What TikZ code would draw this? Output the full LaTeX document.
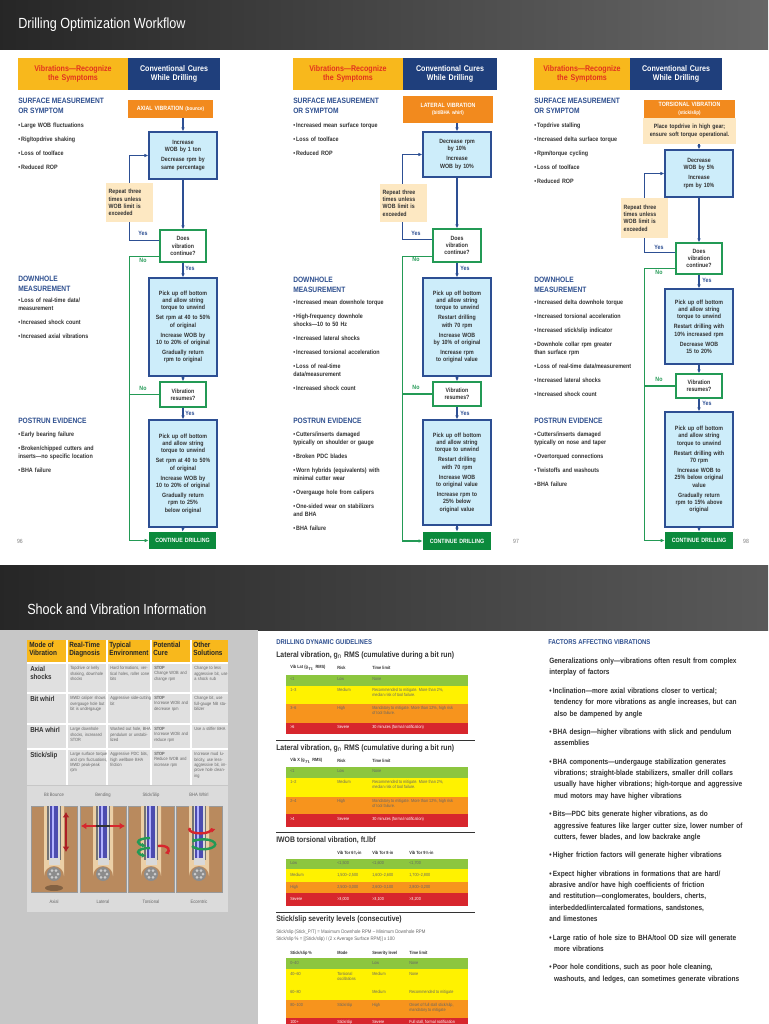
\documentclass[tikz,border=0pt]{standalone}
\usepackage{fontspec}
\setmainfont{Liberation Sans}[FakeStretch=0.86]
\usetikzlibrary{arrows.meta,calc}
\definecolor{hblue}{HTML}{2E4F8F}
\definecolor{lblue}{HTML}{CDEDFA}
\definecolor{bdr}{HTML}{2D4F93}
\definecolor{gdr}{HTML}{239A55}
\definecolor{gfill}{HTML}{0B8A3C}
\definecolor{ofill}{HTML}{F28A1E}
\definecolor{yfill}{HTML}{F8B81C}
\definecolor{ored}{HTML}{E2321F}
\definecolor{nblue}{HTML}{1F3F7C}
\definecolor{cream}{HTML}{FDE8C2}
\definecolor{tgray}{HTML}{333333}
\definecolor{cgreen}{HTML}{8CC63F}
\definecolor{cyel}{HTML}{FFF200}
\definecolor{corg}{HTML}{F7941D}
\definecolor{cred}{HTML}{D7262D}
\definecolor{brn}{HTML}{B98A5E}
\definecolor{tan}{HTML}{EBCFA6}
\newcommand\B[7]{%
 \pgfmathsetmacro\bw{(#5-#3)*0.75}\pgfmathsetmacro\bh{(#6-#4)*0.75}\pgfmathsetmacro\btw{(#5-#3)*0.75-2.5}%
 \node[#2,minimum width=\bw pt,minimum height=\bh pt,text width=\btw pt] (#1) at ({(#3+#5)/2},{(#4+#6)/2}) {#7};}
\newcommand\bl[1]{\hangindent=3.6pt\hangafter=1\noindent\textbullet\,#1\par}
\newcommand\cellA[5]{\fill[#5] (#1,#2) rectangle (#3,#4);}
\begin{document}
\begin{tikzpicture}[x=0.75pt,y=-0.75pt,
 fl/.style={font=\bfseries\fontsize{4.6}{5.5}\selectfont},
 act/.style={fl,draw=bdr,fill=lblue,line width=0.8pt,align=center,inner xsep=1pt,inner ysep=1pt,text=tgray},
 dec/.style={fl,draw=gdr,fill=white,line width=0.8pt,align=center,inner xsep=1pt,inner ysep=1pt,text=tgray},
 rep/.style={fl,fill=cream,align=left,inner xsep=2pt,inner ysep=1pt,text=tgray},
 repc/.style={rep,align=center},
 cont/.style={fl,fill=gfill,text=white,align=center,inner sep=1pt},
 vib/.style={fl,fill=ofill,text=white,align=center,inner sep=0.5pt},
 hdo/.style={font=\bfseries\fontsize{6.2}{7}\selectfont,fill=yfill,text=ored,align=center,inner sep=1pt},
 hdb/.style={font=\bfseries\fontsize{6.2}{7}\selectfont,fill=nblue,text=white,align=center,inner sep=1pt},
 barr/.style={draw=bdr,line width=0.8pt,-{Latex[length=3pt,width=2.6pt]}},
 garr/.style={draw=gdr,line width=0.8pt,-{Latex[length=3pt,width=2.6pt]}},
 gln/.style={draw=gdr,line width=0.8pt},
 bln/.style={draw=bdr,line width=0.8pt},
 yl/.style={font=\bfseries\fontsize{4.6}{5}\selectfont,text=bdr,inner sep=0.5pt},
 nl/.style={font=\bfseries\fontsize{4.6}{5}\selectfont,text=gdr,inner sep=0.5pt},
 hd/.style={font=\bfseries\fontsize{5.8}{7.4}\selectfont,text=hblue,align=left,anchor=north west,inner sep=0pt},
 bls/.style={font=\fontsize{4.7}{5.9}\selectfont\bfseries,text=tgray,anchor=north west,inner sep=0pt,text width=#1},
 bls/.default=72pt,
 tt/.style={font=\fontsize{3.3}{4}\selectfont,text=tgray,anchor=north west,inner sep=0pt},
 tb/.style={font=\bfseries\fontsize{5.4}{6}\selectfont,text=tgray,anchor=west,inner sep=0pt},
 ct/.style={font=\fontsize{3.4}{4.1}\selectfont,text=black!60,anchor=north west,inner sep=0pt,text width=#1,align=left},
 ct/.default=28pt
]
\useasboundingbox (0,0) rectangle (768,1024);
% backgrounds
\fill[white] (0,0) rectangle (768,1024);
\shade[left color=black!85,right color=black!60] (0,0) rectangle (768,50);
\shade[left color=black!85,right color=black!65] (0,565) rectangle (768,630);
\fill[black!22] (0,630) rectangle (258,1024);
\node[font=\fontsize{11}{13}\selectfont,text=white,anchor=west,inner sep=0pt] (title1) at (18,25) {Drilling Optimization Workflow};
\node[font=\fontsize{11}{13}\selectfont,text=white,anchor=west,inner sep=0pt] (title2) at (27,609) {Shock and Vibration Information};
\node[font=\fontsize{4.5}{5}\selectfont,text=black!50] (pg1) at (20,541) {96};
\node[font=\fontsize{4.5}{5}\selectfont,text=black!50] (pg2) at (516,541) {97};
\node[font=\fontsize{4.5}{5}\selectfont,text=black!50] (pg3) at (746,541) {98};

% ================= headers
\B{h1a}{hdo}{18}{58}{128}{90}{Vibrations---Recognize\\the Symptoms}
\B{h1b}{hdb}{128}{58}{220}{90}{Conventional Cures\\While Drilling}
\B{h2a}{hdo}{293}{58}{403}{90}{Vibrations---Recognize\\the Symptoms}
\B{h2b}{hdb}{403}{58}{497}{90}{Conventional Cures\\While Drilling}
\B{h3a}{hdo}{534}{58}{630}{90}{Vibrations---Recognize\\the Symptoms}
\B{h3b}{hdb}{630}{58}{722}{90}{Conventional Cures\\While Drilling}

% ================= column 1 text
\node[hd] (s1) at (18,98) {SURFACE MEASUREMENT\\OR SYMPTOM};
\node[bls] (s1b) at (18,123) {\setlength\parskip{4.6pt}\raggedright
\bl{Large WOB fluctuations}\bl{Rig/topdrive shaking}\bl{Loss of toolface}\bl{Reduced ROP}};
\node[hd] (w1) at (18,276) {DOWNHOLE\\MEASUREMENT};
\node[bls] (w1b) at (18,298) {\setlength\parskip{4.6pt}\raggedright
\bl{Loss of real-time data/\\measurement}\bl{Increased shock count}\bl{Increased axial vibrations}};
\node[hd] (p1h) at (18,418) {POSTRUN EVIDENCE};
\node[bls=80pt] (p1b) at (18,432) {\setlength\parskip{4.6pt}\raggedright
\bl{Early bearing failure}\bl{Broken/chipped cutters and\\inserts---no specific location}\bl{BHA failure}};

% column 1 flow
\B{v1}{vib}{128}{100}{213}{118}{AXIAL VIBRATION {\fontsize{3.9}{4}\selectfont(bounce)}}
\B{a1}{act}{149}{132}{217}{179}{Increase\\WOB by 1 ton\\[2pt]Decrease rpm by\\same percentage}
\B{d1}{dec}{160}{230}{206}{262}{Does\\vibration\\continue?}
\B{b1}{act}{149}{278}{217}{376}{Pick up off bottom\\and allow string\\torque to unwind\\[2pt]Set rpm at 40 to 50\%\\of original\\[2pt]Increase WOB by\\10 to 20\% of original\\[2pt]Gradually return\\rpm to original}
\B{r1}{dec}{160}{382}{206}{407}{Vibration\\resumes?}
\B{c1}{act}{149}{420}{217}{527}{Pick up off bottom\\and allow string\\torque to unwind\\[2pt]Set rpm at 40 to 50\%\\of original\\[2pt]Increase WOB by\\10 to 20\% of original\\[2pt]Gradually return\\rpm to 25\%\\below original}
\B{g1}{cont}{149}{532}{216}{549}{CONTINUE DRILLING}
\draw[barr] (v1.south -| a1.north) -- (a1.north);
\draw[barr] (a1.south) -- (d1.north);
\draw[barr] (d1.south) -- (b1.north);
\draw[barr] (b1.south) -- (r1.north);
\draw[barr] (r1.south) -- (c1.north);
\draw[barr] (c1.south) -- (g1.north);
\draw[barr] ([yshift=-8.2pt]d1.north west) -| ([xshift=-14.25pt]a1.west) -- (a1.west);
\draw[garr] ([yshift=4.5pt]d1.south west) -| ([xshift=-14.25pt]g1.west) -- (g1.west);
\draw[gln] (r1.west) -- ([xshift=-14.25pt]g1.west |- r1.west);
\B{p1}{rep}{107}{183}{152}{222}{Repeat three\\times unless\\WOB limit is\\exceeded}
\node[yl] (y1a) at (143,233) {Yes};
\node[nl] (n1a) at (143,260) {No};
\node[nl] (n1b) at (143,388) {No};
\node[yl] (y1b) at (190,268) {Yes};
\node[yl] (y1c) at (190,413) {Yes};

% ================= column 2 text
\node[hd] (s2) at (293,98) {SURFACE MEASUREMENT\\OR SYMPTOM};
\node[bls=80pt] (s2b) at (293,123) {\setlength\parskip{4.6pt}\raggedright
\bl{Increased mean surface torque}\bl{Loss of toolface}\bl{Reduced ROP}};
\node[hd] (w2) at (293,277) {DOWNHOLE\\MEASUREMENT};
\node[bls=80pt] (w2b) at (293,300) {\setlength\parskip{4.6pt}\raggedright
\bl{Increased mean downhole torque}\bl{High-frequency downhole\\shocks---10 to 50 Hz}\bl{Increased lateral shocks}\bl{Increased torsional acceleration}\bl{Loss of real-time\\data/measurement}\bl{Increased shock count}};
\node[hd] (p2h) at (293,418) {POSTRUN EVIDENCE};
\node[bls=82pt] (p2b) at (293,432) {\setlength\parskip{4.6pt}\raggedright
\bl{Cutters/inserts damaged\\typically on shoulder or gauge}\bl{Broken PDC blades}\bl{Worn hybrids (equivalents) with\\minimal cutter wear}\bl{Overgauge hole from calipers}\bl{One-sided wear on stabilizers\\and BHA}\bl{BHA failure}};

\B{v2}{vib}{403}{96}{493}{123}{LATERAL VIBRATION\\{\fontsize{3.9}{4.5}\selectfont(bit/BHA whirl)}}
\B{a2}{act}{423}{132}{491}{177}{Decrease rpm\\by 10\%\\[2pt]Increase\\WOB by 10\%}
\B{d2}{dec}{433}{229}{481}{262}{Does\\vibration\\continue?}
\B{b2}{act}{423}{278}{491}{376}{Pick up off bottom\\and allow string\\torque to unwind\\[2pt]Restart drilling\\with 70 rpm\\[2pt]Increase WOB\\by 10\% of original\\[2pt]Increase rpm\\to original value}
\B{r2}{dec}{433}{382}{481}{406}{Vibration\\resumes?}
\B{c2}{act}{423}{420}{491}{525}{Pick up off bottom\\and allow string\\torque to unwind\\[2pt]Restart drilling\\with 70 rpm\\[2pt]Increase WOB\\to original value\\[2pt]Increase rpm to\\25\% below\\original value}
\B{g2}{cont}{423}{532}{491}{550}{CONTINUE DRILLING}
\draw[barr] (v2.south -| a2.north) -- (a2.north);
\draw[barr] (a2.south) -- (d2.north);
\draw[barr] (d2.south) -- (b2.north);
\draw[barr] (b2.south) -- (r2.north);
\draw[barr] (r2.south) -- (c2.north);
\draw[barr] (c2.south) -- (g2.north);
\draw[barr] ([yshift=-8.2pt]d2.north west) -| ([xshift=-15pt]a2.west) -- (a2.west);
\draw[garr] ([yshift=4.5pt]d2.south west) -| ([xshift=-15pt]g2.west) -- (g2.west);
\draw[gln] (r2.west) -- ([xshift=-15pt]g2.west |- r2.west);
\B{p2}{rep}{381}{184}{426}{222}{Repeat three\\times unless\\WOB limit is\\exceeded}
\node[yl] (y2a) at (416,233) {Yes};
\node[nl] (n2a) at (416,259) {No};
\node[nl] (n2b) at (416,387) {No};
\node[yl] (y2b) at (465,268) {Yes};
\node[yl] (y2c) at (465,413) {Yes};

% ================= column 3 text
\node[hd] (s3) at (534,98) {SURFACE MEASUREMENT\\OR SYMPTOM};
\node[bls=80pt] (s3b) at (534,123) {\setlength\parskip{4.6pt}\raggedright
\bl{Topdrive stalling}\bl{Increased delta surface torque}\bl{Rpm/torque cycling}\bl{Loss of toolface}\bl{Reduced ROP}};
\node[hd] (w3) at (534,277) {DOWNHOLE\\MEASUREMENT};
\node[bls=84pt] (w3b) at (534,300) {\setlength\parskip{4.6pt}\raggedright
\bl{Increased delta downhole torque}\bl{Increased torsional acceleration}\bl{Increased stick/slip indicator}\bl{Downhole collar rpm greater\\than surface rpm}\bl{Loss of real-time data/measurement}\bl{Increased lateral shocks}\bl{Increased shock count}};
\node[hd] (p3h) at (534,418) {POSTRUN EVIDENCE};
\node[bls=80pt] (p3b) at (534,432) {\setlength\parskip{4.6pt}\raggedright
\bl{Cutters/inserts damaged\\typically on nose and taper}\bl{Overtorqued connections}\bl{Twistoffs and washouts}\bl{BHA failure}};

\B{v3}{vib}{644}{100}{735}{118}{TORSIONAL VIBRATION\\{\fontsize{3.9}{4.5}\selectfont(stick/slip)}}
\B{t3}{repc}{644}{118}{735}{144}{Place topdrive in high gear;\\ensure soft torque operational.}
\B{a3}{act}{665}{150}{733}{197}{Decrease\\WOB by 5\%\\[2pt]Increase\\rpm by 10\%}
\B{d3}{dec}{676}{243}{722}{274}{Does\\vibration\\continue?}
\B{b3}{act}{665}{289}{733}{364}{Pick up off bottom\\and allow string\\torque to unwind\\[2pt]Restart drilling with\\10\% increased rpm\\[2pt]Decrease WOB\\15 to 20\%}
\B{r3}{dec}{676}{374}{722}{398}{Vibration\\resumes?}
\B{c3}{act}{665}{412}{733}{527}{Pick up off bottom\\and allow string\\torque to unwind\\[2pt]Restart drilling with\\70 rpm\\[2pt]Increase WOB to\\25\% below original\\value\\[2pt]Gradually return\\rpm to 15\% above\\original}
\B{g3}{cont}{665}{532}{733}{549}{CONTINUE DRILLING}
\draw[barr] (t3.south -| a3.north) -- (a3.north);
\draw[barr] (a3.south) -- (d3.north);
\draw[barr] (d3.south) -- (b3.north);
\draw[barr] (b3.south) -- (r3.north);
\draw[barr] (r3.south) -- (c3.north);
\draw[barr] (c3.south) -- (g3.north);
\draw[barr] ([yshift=-7.5pt]d3.north west) -| ([xshift=-15pt]a3.west) -- (a3.west);
\draw[garr] ([yshift=4.5pt]d3.south west) -| ([xshift=-15pt]g3.west) -- (g3.west);
\draw[gln] (r3.west) -- ([xshift=-15pt]g3.west |- r3.west);
\B{p3}{rep}{622}{198}{667}{238}{Repeat three\\times unless\\WOB limit is\\exceeded}
\node[yl] (y3a) at (659,247) {Yes};
\node[nl] (n3a) at (659,272) {No};
\node[nl] (n3b) at (659,379) {No};
\node[yl] (y3b) at (707,280) {Yes};
\node[yl] (y3c) at (707,403) {Yes};

% ================= bottom left table
\fill[yfill] (27,640) rectangle (228,663);
\foreach \x/\t in {29/Mode of\\Vibration,69/Real-Time\\Diagnosis,109/Typical\\Environment,153/Potential\\Cure,193/Other\\Solutions}
  \node[font=\bfseries\fontsize{5.6}{6}\selectfont,text=black!85,anchor=north west,inner sep=0pt,align=left] at (\x,642) {\t};
\fill[black!12] (27,663) rectangle (228,785);
\foreach \x in {67,107,151,191} \draw[white,line width=0.8pt] (\x,640) -- (\x,785);
\foreach \y in {663,693,724,749} \draw[white,line width=0.8pt] (27,\y) -- (228,\y);
\node[tb,anchor=north west,align=left] (m1) at (30,666) {Axial\\shocks};
\node[tb,anchor=north west] (m2) at (30,696) {Bit whirl};
\node[tb,anchor=north west] (m3) at (30,727) {BHA whirl};
\node[tb,anchor=north west] (m4) at (30,752) {Stick/slip};
\node[ct] at (70,666) {Topdrive or kelly shaking, downhole shocks};
\node[ct=31pt] at (110,666) {Hard formations, vertical holes, roller cone bits};
\node[ct] at (154,666) {\textbf{STOP}\\Change WOB and change rpm};
\node[ct=26pt] at (194,666) {Change to less aggres\-sive bit, use a shock sub};
\node[ct] at (70,696) {MWD caliper shows overgauge hole but bit is undergauge};
\node[ct=31pt] at (110,696) {Aggressive side-cutting bit};
\node[ct] at (154,696) {\textbf{STOP}\\Increase WOB and decrease rpm};
\node[ct=26pt] at (194,696) {Change bit, use full-gauge NB stabilizer};
\node[ct] at (70,727) {Large downhole shocks, increased STOR};
\node[ct=31pt] at (110,727) {Washed out hole, BHA pendulum or unstabilized};
\node[ct] at (154,727) {\textbf{STOP}\\Increase WOB and reduce rpm};
\node[ct=26pt] at (194,727) {Use a stiffer BHA};
\node[ct] at (70,752) {Large surface torque and rpm fluctuations, MWD peak-peak rpm};
\node[ct=31pt] at (110,752) {Aggressive PDC bits, high wellbore BHA friction};
\node[ct] at (154,752) {\textbf{STOP}\\Reduce WOB and increase rpm};
\node[ct=26pt] at (194,752) {Increase mud lubricity, use less-aggressive bit, improve hole cleaning};
% illustrations
\fill[black!14] (27,786) rectangle (228,912);
\foreach \x/\a/\b in {31/Bit Bounce/Axial,80/Bending/Lateral,128/{Stick/Slip}/Torsional,176/BHA Whirl/Eccentric}{
  \node[font=\fontsize{3.6}{4}\selectfont,text=black!60] at (\x+23,795) {\a};
  \node[font=\fontsize{3.6}{4}\selectfont,text=black!60] at (\x+23,902) {\b};
  \fill[brn] (\x,806) rectangle (\x+46,892);
  \draw[black!40,line width=0.2pt] (\x,806) rectangle (\x+46,892);
  \fill[tan] (\x+13,806) -- (\x+13,876) arc[start angle=180,end angle=360,radius=10] -- (\x+33,806) -- cycle;
  \fill[black!55] (\x+16,806) -- (\x+16,860) -- (\x+30,860) -- (\x+30,806) -- cycle;
  \fill[black!15] (\x+17.5,806) rectangle (\x+28.5,865);
  \fill[blue!55!black!70] (\x+19,806) rectangle (\x+27,858);
  \fill[white!70!blue] (\x+21,806) rectangle (\x+22.5,858);
  \fill[black!45] (\x+23,874) circle[radius=7];
  \foreach \k in {0,60,...,300} \fill[white!80!black] ($(\x+23,874)+(\k:4)$) circle[radius=1.5];
}
\fill[brn!70!black] (54,888) ellipse[x radius=9,y radius=3];
\draw[cred!80!black,line width=1.6pt,{Latex[length=4pt,width=5pt]}-{Latex[length=4pt,width=5pt]}] (66,812) -- (66,852);
\draw[black!80,line width=1.4pt] (88,826) -- (118,826);
\draw[cred,line width=1.6pt,-{Latex[length=4pt,width=5pt]}] (96,826) -- (81,826);
\draw[cred,line width=1.6pt,-{Latex[length=4pt,width=5pt]}] (110,826) -- (125,826);
\draw[gdr,line width=1.8pt,-{Latex[length=3pt,width=4pt]}] (150,848) arc[start angle=-90,end angle=-250,x radius=12,y radius=4];
\draw[gdr,line width=1.8pt,-{Latex[length=3pt,width=4pt]}] (150,838) arc[start angle=-90,end angle=-250,x radius=12,y radius=4];
\draw[cred,line width=1.8pt,-{Latex[length=3pt,width=4pt]}] (158,846) arc[start angle=-110,end angle=60,x radius=8,y radius=4];
\draw[cred,line width=1.8pt,-{Latex[length=3pt,width=4pt]}] (190,828) arc[start angle=200,end angle=-20,x radius=11,y radius=4];
\draw[gdr,line width=1.8pt,-{Latex[length=3pt,width=4pt]}] (192,846) arc[start angle=160,end angle=-160,x radius=12,y radius=5];

% ================= middle tables
\node[font=\bfseries\fontsize{5.2}{6}\selectfont,text=hblue,anchor=west,inner sep=0pt] (dg) at (276,642) {DRILLING DYNAMIC GUIDELINES};
\node[font=\bfseries\fontsize{6}{7}\selectfont,text=tgray,anchor=west,inner sep=0pt] (lt1) at (276,655) {Lateral vibration, g$_{\mathrm n}$ RMS (cumulative during a bit run)};
\foreach \x/\t in {290/Vib Lat (g$_n$ RMS),337/Risk,372/Time limit} \node[tt,anchor=west,font=\bfseries\fontsize{3.4}{4}\selectfont] at (\x,668) {\t};
\cellA{286}{675}{468}{686}{cgreen}\cellA{286}{686}{468}{704}{cyel}\cellA{286}{704}{468}{723}{corg}\cellA{286}{723}{468}{734}{cred}
\foreach \y/\a/\b/\c/\w in {677/<1/Low/None/black!60,688/1--3/Medium/{Recommended to mitigate. More than 2\%,\\median risk of tool failure.}/black!60,706/3--6/High/{Mandatory to mitigate. More than 12\%, high risk\\of tool failure.}/black!60,725/>6/Severe/{30 minutes (formal notification)}/white}{
 \node[tt,text=\w] at (290,\y) {\a}; \node[tt,text=\w] at (337,\y) {\b}; \node[tt,text=\w,align=left] at (372,\y) {\c};}
\draw[black!80,line width=0.7pt] (276,740) -- (475,740);
\node[font=\bfseries\fontsize{6}{7}\selectfont,text=tgray,anchor=west,inner sep=0pt] (lt2) at (276,748) {Lateral vibration, g$_{\mathrm n}$ RMS (cumulative during a bit run)};
\foreach \x/\t in {290/Vib X (g$_n$ RMS),337/Risk,372/Time limit} \node[tt,anchor=west,font=\bfseries\fontsize{3.4}{4}\selectfont] at (\x,761) {\t};
\cellA{286}{767}{468}{778}{cgreen}\cellA{286}{778}{468}{797}{cyel}\cellA{286}{797}{468}{814}{corg}\cellA{286}{814}{468}{827}{cred}
\foreach \y/\a/\b/\c/\w in {769/<1/Low/None/black!60,780/1--2/Medium/{Recommended to mitigate. More than 2\%,\\median risk of tool failure.}/black!60,799/2--4/High/{Mandatory to mitigate. More than 12\%, high risk\\of tool failure.}/black!60,817/>4/Severe/{30 minutes (formal notification)}/white}{
 \node[tt,text=\w] at (290,\y) {\a}; \node[tt,text=\w] at (337,\y) {\b}; \node[tt,text=\w,align=left] at (372,\y) {\c};}
\draw[black!80,line width=0.7pt] (276,832) -- (475,832);
\node[font=\bfseries\fontsize{6}{7}\selectfont,text=tgray,anchor=west,inner sep=0pt] (lt3) at (276,840) {IWOB torsional vibration, ft.lbf};
\foreach \x/\t in {337/Vib Tor 6¾-in,372/Vib Tor 8-in,409/Vib Tor 9½-in} \node[tt,anchor=west,font=\bfseries\fontsize{3.4}{4}\selectfont] at (\x,853) {\t};
\cellA{286}{859}{468}{869}{cgreen}\cellA{286}{869}{468}{882}{cyel}\cellA{286}{882}{468}{893}{corg}\cellA{286}{893}{468}{906}{cred}
\foreach \y/\a/\b/\c/\d/\w in {861/Low/{<1,500}/{<1,600}/{<1,700}/black!60,873/Medium/{1,500--2,500}/{1,600--2,600}/{1,700--2,800}/black!60,885/High/{2,500--3,000}/{2,600--3,100}/{2,800--3,200}/black!60,897/Severe/{>3,000}/{>3,100}/{>3,200}/white}{
 \node[tt,text=\w] at (290,\y) {\a}; \node[tt,text=\w] at (337,\y) {\b}; \node[tt,text=\w] at (372,\y) {\c}; \node[tt,text=\w] at (409,\y) {\d};}
\draw[black!80,line width=0.7pt] (276,912) -- (475,912);
\node[font=\bfseries\fontsize{6}{7}\selectfont,text=tgray,anchor=west,inner sep=0pt] (lt4) at (276,919) {Stick/slip severity levels (consecutive)};
\node[tt,font=\fontsize{3.8}{5}\selectfont,text=black!60,align=left] (fm) at (276,930) {Stick/slip (Stick\_P/T) = Maximum Downhole RPM -- Minimum Downhole RPM\\Stick/slip \% = [(Stick/slip) / (2 x Average Surface RPM)] x 100};
\foreach \x/\t in {290/{Stick/slip \%},337/Mode,372/Severity level,409/Time limit} \node[tt,anchor=west,font=\bfseries\fontsize{3.4}{4}\selectfont] at (\x,953) {\t};
\cellA{286}{958}{468}{969}{cgreen}\cellA{286}{969}{468}{1000}{cyel}\cellA{286}{1000}{468}{1018}{corg}\cellA{286}{1018}{468}{1030}{cred}
\foreach \y/\a/\b/\c/\d/\w in {961/0--40//Low/None/black!60,972/40--60/{Torsional\\oscillations}/Medium/None/black!60,990/60--80//Medium/Recommended to mitigate/black!60,1003/80--100/{Stick/slip}/High/{Onset of full stall stick/slip,\\mandatory to mitigate}/black!60,1020/100+/{Stick/slip}/Severe/{Full stall, formal notification}/white}{
 \node[tt,text=\w] at (290,\y) {\a}; \node[tt,text=\w,align=left] at (337,\y) {\b}; \node[tt,text=\w] at (372,\y) {\c}; \node[tt,text=\w,align=left] at (409,\y) {\d};}

% ================= right text
\node[font=\bfseries\fontsize{5.2}{6}\selectfont,text=hblue,anchor=west,inner sep=0pt] (fa) at (548,642) {FACTORS AFFECTING VIBRATIONS};
\node[font=\bfseries\fontsize{5.7}{8.4}\selectfont,text=tgray,anchor=north west,inner sep=0pt,text width=146pt] (ft) at (549,658) {\setlength\parskip{5.6pt}\raggedright
\noindent Generalizations only---vibrations often result from complex interplay of factors\par
\bl{Inclination---more axial vibrations closer to vertical; tendency for more vibrations as angle increases, but can also be dampened by angle}
\bl{BHA design---higher vibrations with slick and pendulum assemblies}
\bl{BHA components---undergauge stabilization generates vibrations; straight-blade stabilizers, smaller drill collars usually have higher vibrations; high-torque and aggressive mud motors may have higher vibrations}
\bl{Bits---PDC bits generate higher vibrations, as do aggressive features like larger cutter size, lower number of cutters, fewer blades, and low backrake angle}
\bl{Higher friction factors will generate higher vibrations}
\bl{Expect higher vibrations in formations that are hard/\\abrasive and/or have high coefficients of friction\\and restitution---conglomerates, boulders, cherts, interbedded/intercalated formations, sandstones,\\and limestones}
\bl{Large ratio of hole size to BHA/tool OD size will generate more vibrations}
\bl{Poor hole conditions, such as poor hole cleaning, washouts, and ledges, can sometimes generate vibrations}};
\end{tikzpicture}
\end{document}
